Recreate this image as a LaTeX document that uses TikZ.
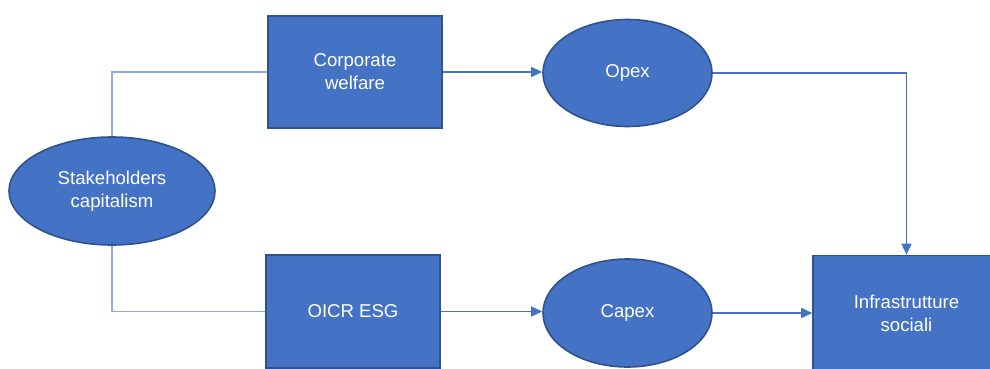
\documentclass[tikz,border=0pt]{standalone}
\usepackage{fontspec}
\setmainfont{Liberation Sans}
\usepackage{tikz}
\usetikzlibrary{shapes.geometric,arrows.meta}
\definecolor{boxblue}{HTML}{4472C4}
\definecolor{boxedge}{HTML}{2F528F}
\definecolor{linkblue}{HTML}{8FAADC}

\begin{document}
\begin{tikzpicture}[x=1pt,y=-1pt,
    box/.style={draw=boxedge,fill=boxblue,line width=1.6pt,text=white,
      align=center,inner sep=0pt,font=\fontsize{18.6}{23}\selectfont},
    rbox/.style={box,rectangle,minimum width=174pt,minimum height=112pt},
    ebox/.style={box,ellipse},
    link/.style={linkblue,line width=1.2pt},
    arr/.style={boxblue,line width=1.5pt,-{Triangle[length=11pt,width=10pt]}}]
          \useasboundingbox (0,0) rectangle (990,369);
          %\draw[very thin,lightgray] (0,0) grid[step=50] (990,369);
          \node[ebox,minimum width=206pt,minimum height=108pt] (stake)
          at (112,191) {Stakeholders\\capitalism};
          \node[rbox] (welfare) at (355,72) {Corporate\\welfare};
          \node[rbox,minimum height=113pt] (oicr) at (353,311.5) {OICR ESG};
          \node[ebox,minimum width=169pt,minimum height=107pt] (opex)
          at (627.5,73) {Opex};
          \node[ebox,minimum width=169pt,minimum height=108pt] (capex)
          at (627.5,313) {Capex};
          \node[rbox,minimum width=187pt,minimum height=115pt] (infra)
          at (906.5,313) {Infrastrutture\\sociali};
          \draw[link] (stake.north) |- (welfare.west);
          \draw[link] (stake.south) |- (oicr.west);
          \draw[arr] (welfare.east) -- (welfare.east -| opex.west);
          \draw[arr] (oicr.east) -- (oicr.east -| capex.west);
          \draw[arr] (opex.east) -| (infra.north);
          \draw[arr] (capex.east) -- (infra.west);
        \end{tikzpicture}
\end{document}
